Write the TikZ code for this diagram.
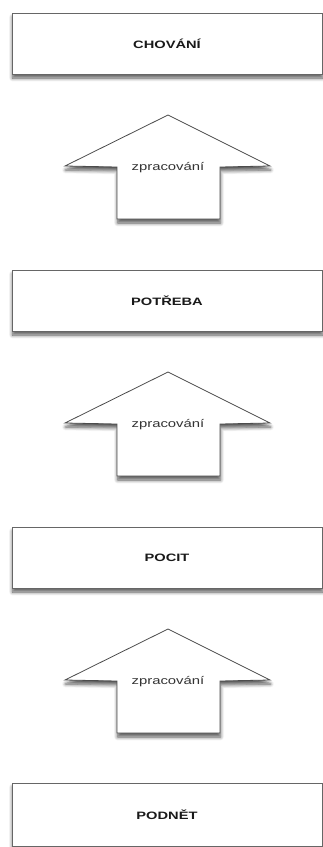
\documentclass[tikz,border=0pt]{standalone}
\usepackage{fontspec}
\setmainfont{Liberation Sans}
\usetikzlibrary{shadows.blur}
\begin{document}
\begin{tikzpicture}[x=1pt,y=-1pt,
  shade/.style={blur shadow={shadow xshift=0.5pt, shadow yshift=-4pt, shadow blur steps=8, shadow opacity=65, shadow blur radius=3.5pt}},
  box/.style={draw=black!60, line width=1pt, fill=white, minimum width=310pt, minimum height=61pt, inner sep=0pt, shade, text=black!90, font=\bfseries\fontsize{10.7}{12}\selectfont},
  arrowshape/.style={draw=black!70, line width=0.8pt, fill=white, line join=miter, shade},
  lbl/.style={inner sep=0pt, text=black!80, font=\fontsize{11}{13}\selectfont}]
\useasboundingbox (0,0) rectangle (323,847);
% boxes
\node[box] (chovani) at (167,43.5) {\scalebox{1.37}[1]{CHOVÁNÍ}};
\node[box] (potreba) at (167,300.5) {\scalebox{1.37}[1]{POTŘEBA}};
\node[box] (pocit) at (167,557.5) {\scalebox{1.37}[1]{POCIT}};
\node[box, minimum height=63pt] (podnet) at (167,814.5) {\scalebox{1.37}[1]{PODNĚT}};
% arrows
\foreach \t/\n in {115/a, 372/b, 629/c}{
  \draw[arrowshape] (168,\t) -- (270,\t+51) -- (220,\t+52) -- (220,\t+104) -- (117,\t+104) -- (117,\t+52) -- (65,\t+51) -- cycle;
  \node[lbl] (z\n) at (168,\t+53) {\scalebox{1.35}[1]{zpracování}};
}
\end{tikzpicture}
\end{document}
